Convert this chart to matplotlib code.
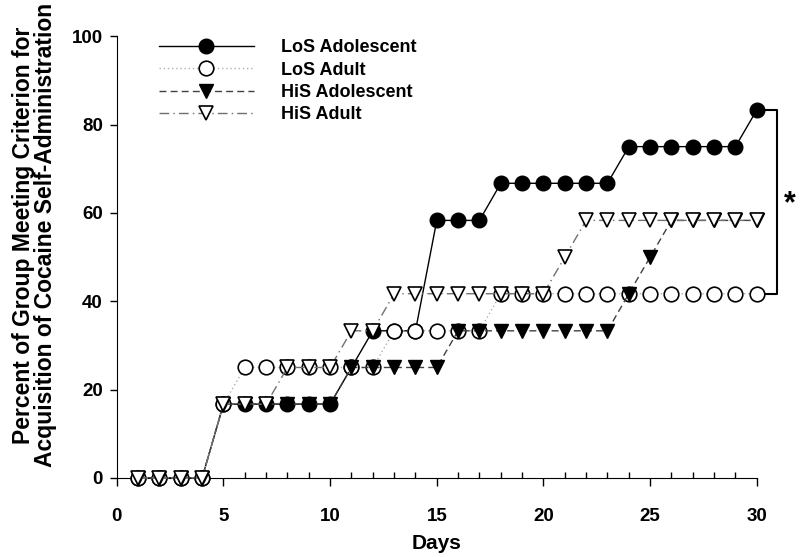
import numpy as np
import matplotlib.pyplot as plt

plt.rcParams['font.family'] = ['Liberation Sans', 'DejaVu Sans']

# Data (percent of group meeting criterion)
days = np.arange(1, 31)
los_adolescent = [0, 0, 0, 0, 16.7, 16.7, 16.7, 16.7, 16.7, 16.7,
                  25, 33.3, 33.3, 33.3, 58.3, 58.3, 58.3, 66.7, 66.7, 66.7,
                  66.7, 66.7, 66.7, 75, 75, 75, 75, 75, 75, 83.3]
los_adult = [0, 0, 0, 0, 16.7, 25, 25, 25, 25, 25,
             25, 25, 33.3, 33.3, 33.3, 33.3, 33.3, 41.7, 41.7, 41.7,
             41.7, 41.7, 41.7, 41.7, 41.7, 41.7, 41.7, 41.7, 41.7, 41.7]
his_adolescent = [0, 0, 0, 0, 16.7, 16.7, 16.7, 16.7, 16.7, 16.7,
                  25, 25, 25, 25, 25, 33.3, 33.3, 33.3, 33.3, 33.3,
                  33.3, 33.3, 33.3, 41.7, 50, 58.3, 58.3, 58.3, 58.3, 58.3]
his_adult = [0, 0, 0, 0, 16.7, 16.7, 16.7, 25, 25, 25,
             33.3, 33.3, 41.7, 41.7, 41.7, 41.7, 41.7, 41.7, 41.7, 41.7,
             50, 58.3, 58.3, 58.3, 58.3, 58.3, 58.3, 58.3, 58.3, 58.3]

fig = plt.figure(figsize=(8, 5.57), dpi=100)
ax = fig.add_axes([0.146, 0.142, 0.8, 0.793])

ms = 10.5
ax.plot(days, los_adolescent, '-', color='black', lw=1.0, marker='o', ms=ms,
        mfc='black', mec='black', label='LoS Adolescent', zorder=2, clip_on=False)
ax.plot(days, los_adult, linestyle=(0, (1, 2)), color='#b0b0b0', lw=1.0, marker='o', ms=ms,
        mfc='white', mec='black', mew=1.2, label='LoS Adult', zorder=3, clip_on=False)
ax.plot(days, his_adolescent, linestyle=(0, (5, 3)), color='#404040', lw=1.0, marker='v', ms=ms,
        mfc='black', mec='black', label='HiS Adolescent', zorder=4, clip_on=False)
ax.plot(days, his_adult, linestyle=(0, (7, 3, 1, 3)), color='#707070', lw=1.0, marker='v', ms=ms,
        mfc='white', mec='black', mew=1.2, label='HiS Adult', zorder=5, clip_on=False)

# significance bracket
ax.plot([30.4, 30.95, 30.95, 30.4], [83.3, 83.3, 41.7, 41.7], color='black', lw=1.5, clip_on=False)
ax.text(31.55, 62, '*', fontsize=22, fontweight='bold', ha='center', va='center')

ax.set_xlim(0, 30)
ax.set_ylim(0, 100)
ax.set_xticks(np.arange(0, 31, 5))
ax.set_xticks(np.arange(0, 31, 1), minor=True)
ax.set_yticks(np.arange(0, 101, 20))
for s in ['top', 'right']:
    ax.spines[s].set_visible(False)
ax.tick_params(axis='y', labelsize=13.5, width=1, length=5, pad=5)
ax.tick_params(axis='x', which='major', labelsize=13.5, direction='out', length=6, width=1, pad=16)
ax.tick_params(axis='x', which='minor', direction='in', length=4, width=1)
for lbl in ax.get_xticklabels() + ax.get_yticklabels():
    lbl.set_fontweight('bold')

ax.set_xlabel('Days', fontsize=15, fontweight='bold', labelpad=6)
ax.set_ylabel('Percent of Group Meeting Criterion for\nAcquisition of Cocaine Self-Administration',
              fontsize=16.5, fontweight='bold', linespacing=0.95)
ax.yaxis.set_label_coords(-0.094, 0.55)

leg = ax.legend(loc='upper left', bbox_to_anchor=(0.04, 1.03), frameon=False,
                handlelength=5.3, handletextpad=1.5, labelspacing=0.3,
                prop={'weight': 'bold', 'size': 13})

fig.savefig('out.png', dpi=100)
